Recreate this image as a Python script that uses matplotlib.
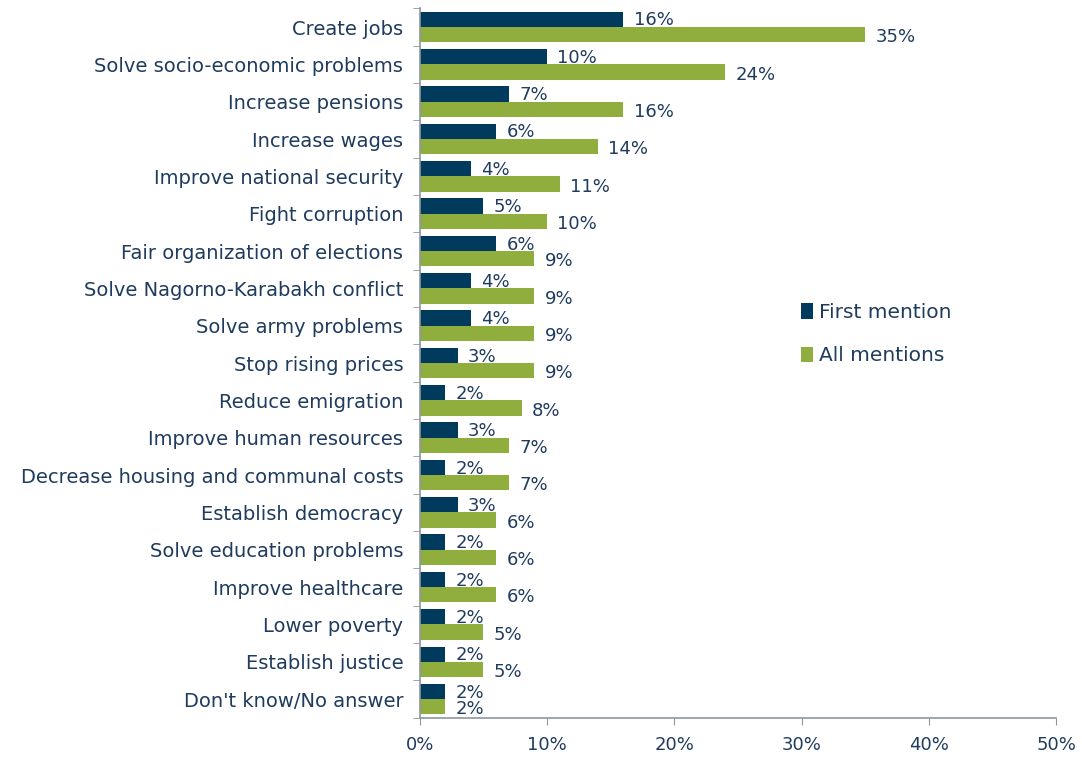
import matplotlib.pyplot as plt
import numpy as np

categories = ["Create jobs", "Solve socio-economic problems", "Increase pensions",
              "Increase wages", "Improve national security", "Fight corruption",
              "Fair organization of elections", "Solve Nagorno-Karabakh conflict",
              "Solve army problems", "Stop rising prices", "Reduce emigration",
              "Improve human resources", "Decrease housing and communal costs",
              "Establish democracy", "Solve education problems", "Improve healthcare",
              "Lower poverty", "Establish justice", "Don't know/No answer"]
first_mention = [16, 10, 7, 6, 4, 5, 6, 4, 4, 3, 2, 3, 2, 3, 2, 2, 2, 2, 2]
all_mentions = [35, 24, 16, 14, 11, 10, 9, 9, 9, 9, 8, 7, 7, 6, 6, 6, 5, 5, 2]
xticks = [0, 10, 20, 30, 40, 50]

navy = '#003a5c'
green = '#8fae3d'
txt = '#1f3b5e'
grey = '#8c96a0'

fig = plt.figure(figsize=(10.82, 7.58), dpi=100)
ax = fig.add_axes([0.388, 0.053, 0.588, 0.936])

y = np.arange(len(categories))
h = 0.41
ax.barh(y - h/2, first_mention, height=h, color=navy, label='First mention')
ax.barh(y + h/2, all_mentions, height=h, color=green, label='All mentions')

# value labels next to the bar ends
for i in range(len(categories)):
    ax.text(first_mention[i] + 0.8, y[i] - h/2 + 0.03, f'{first_mention[i]}%',
            va='center', ha='left', fontsize=13, color=txt)
    ax.text(all_mentions[i] + 0.8, y[i] + h/2 + 0.07, f'{all_mentions[i]}%',
            va='center', ha='left', fontsize=13, color=txt)

ax.set_ylim(len(categories) - 0.5, -0.5)
ax.set_xlim(0, 50)
ax.set_yticks(y)
ax.set_yticklabels(categories, fontsize=14, color=txt)
ax.set_yticks(np.arange(-0.5, len(categories), 1), minor=True)
ax.tick_params(axis='y', which='major', length=0, pad=12)
ax.tick_params(axis='y', which='minor', length=5, color=grey)
ax.set_xticks(xticks)
ax.set_xticklabels([f'{v}%' for v in xticks], fontsize=13, color=txt)
ax.tick_params(axis='x', length=5, color=grey, pad=8)

for s in ['top', 'right']:
    ax.spines[s].set_visible(False)
for s in ['left', 'bottom']:
    ax.spines[s].set_color(grey)
    ax.spines[s].set_linewidth(1.2)

ax.legend(loc='upper left', bbox_to_anchor=(0.57, 0.61), frameon=False,
          fontsize=14.5, handlelength=0.6, handleheight=0.8, handletextpad=0.3,
          labelspacing=1.2, labelcolor=txt)

fig.savefig('out.png', dpi=100)
